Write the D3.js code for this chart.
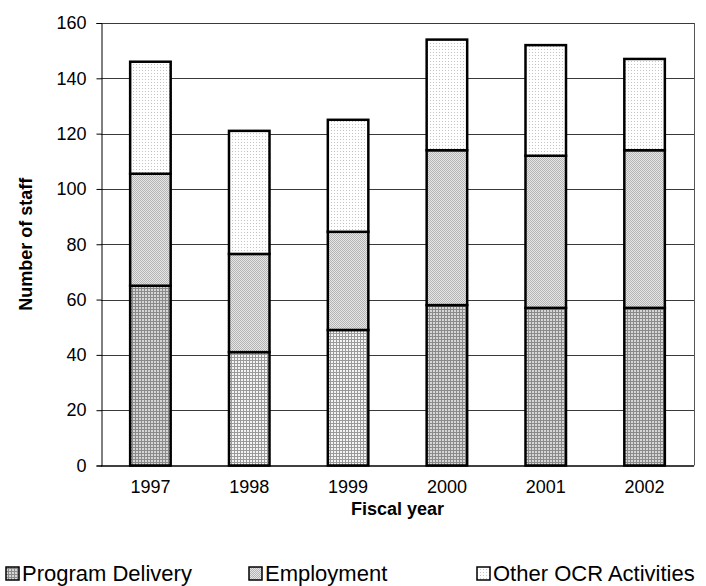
<!DOCTYPE html>
<html><head><meta charset="utf-8">
<script src="https://cdn.jsdelivr.net/npm/d3@7"></script>
<style>body{margin:0;background:#fff}svg{display:block;font-family:"Liberation Sans",Arial,sans-serif}</style>
</head><body><div id="chart"></div>
<script>
const years = ["1997","1998","1999","2000","2001","2002"];
const programDelivery = [65, 41, 49, 58, 57, 57];
const employment = [40.5, 35.5, 35.5, 56, 55, 57];
const otherOCR = [40.5, 44.5, 40.5, 40, 40, 33];
const seriesNames = ["Program Delivery", "Employment", "Other OCR Activities"];
const yTicks = [0, 20, 40, 60, 80, 100, 120, 140, 160];

const W = 706, H = 586;
const m = {left: 101, right: 12, top: 23, bottom: 120.5};
const FONT = "Liberation Sans, Arial, sans-serif";
const svg = d3.select("#chart").append("svg").attr("width", W).attr("height", H);
const defs = svg.append("defs");

// patterns
const p1 = defs.append("pattern").attr("id","pd").attr("width",3).attr("height",3).attr("patternUnits","userSpaceOnUse");
p1.append("rect").attr("width",3).attr("height",3).attr("fill","#d6d6d6");
p1.append("rect").attr("width",3).attr("height",1).attr("fill","#8a8a8a");
p1.append("rect").attr("width",1).attr("height",3).attr("fill","#8a8a8a");
const p1b = defs.append("pattern").attr("id","pdl").attr("width",3).attr("height",3).attr("patternUnits","userSpaceOnUse");
p1b.append("rect").attr("width",3).attr("height",3).attr("fill","#f4f4f4");
p1b.append("rect").attr("width",3).attr("height",1).attr("fill","#9a9a9a");
p1b.append("rect").attr("width",1).attr("height",3).attr("fill","#9a9a9a");
const p2 = defs.append("pattern").attr("id","emp").attr("width",2).attr("height",2).attr("patternUnits","userSpaceOnUse");
p2.append("rect").attr("width",2).attr("height",2).attr("fill","#e6e6e6");
p2.append("rect").attr("width",1).attr("height",1).attr("fill","#b4b4b4");
p2.append("rect").attr("x",1).attr("y",1).attr("width",1).attr("height",1).attr("fill","#b4b4b4");
const p3 = defs.append("pattern").attr("id","oth").attr("width",3).attr("height",3).attr("patternUnits","userSpaceOnUse");
p3.append("rect").attr("width",3).attr("height",3).attr("fill","#ffffff");
p3.append("rect").attr("x",1).attr("y",1).attr("width",1).attr("height",1).attr("fill","#c4c4c4");
const lightPD = new Set(["1998","1999"]);
const fills = [d => lightPD.has(d.data.year) ? "url(#pdl)" : "url(#pd)", () => "url(#emp)", () => "url(#oth)"];

const x = d3.scaleBand().domain(years).range([m.left, W - m.right]).paddingInner(0.59).paddingOuter(0.295);
const y = d3.scaleLinear().domain([0, 160]).range([H - m.bottom, m.top]);

const rows = years.map((yr, i) => ({year: yr, s0: programDelivery[i], s1: employment[i], s2: otherOCR[i]}));
const stack = d3.stack().keys(["s0","s1","s2"])(rows);

// gridlines
svg.append("g").selectAll("line").data(yTicks.filter(t => t > 0)).join("line")
  .attr("x1", m.left).attr("x2", W - m.right)
  .attr("y1", d => Math.round(y(d)) + 0.5).attr("y2", d => Math.round(y(d)) + 0.5)
  .attr("stroke", "#3a3a3a").attr("stroke-width", 1);
// right border
svg.append("line").attr("x1", W - m.right + 0.5).attr("x2", W - m.right + 0.5)
  .attr("y1", y(160)).attr("y2", y(0)).attr("stroke", "#555").attr("stroke-width", 1);

// bars
stack.forEach((layer, k) => {
  svg.append("g").selectAll("rect").data(layer).join("rect")
    .attr("x", d => x(d.data.year))
    .attr("width", x.bandwidth())
    .attr("y", d => y(d[1]))
    .attr("height", d => y(d[0]) - y(d[1]))
    .attr("fill", fills[k])
    .attr("stroke", "#000").attr("stroke-width", 2.5);
});

// y axis
const ya = svg.append("g").attr("transform", `translate(${m.left + 0.5},0)`)
  .call(d3.axisLeft(y).tickValues(yTicks).tickSize(5).tickPadding(10));
ya.attr("font-size", null).attr("font-family", null);
ya.select(".domain").attr("stroke", "#000");
ya.selectAll(".tick line").attr("stroke", "#000");
ya.selectAll("text").style("font-size", "18px").style("font-family", FONT).attr("fill", "#000");

// x axis
const xa = svg.append("g").attr("transform", `translate(0,${y(0) + 0.5})`)
  .call(d3.axisBottom(x).tickSize(0).tickPadding(14));
xa.attr("font-size", null).attr("font-family", null);
xa.select(".domain").attr("stroke", "#000").attr("stroke-width", 1.5).attr("d", `M${m.left},0H${W - m.right}`);
xa.selectAll("text").style("font-size", "18px").style("font-family", FONT).attr("fill", "#000");

// axis titles
svg.append("text").attr("x", (m.left + W - m.right) / 2).attr("y", 515)
  .attr("text-anchor", "middle").style("font-size", "18px").attr("font-weight", "bold").text("Fiscal year");
svg.append("text").attr("transform", `translate(32,${(y(0) + y(160)) / 2}) rotate(-90)`)
  .attr("text-anchor", "middle").style("font-size", "18px").attr("font-weight", "bold").text("Number of staff");

// legend
const legX = [5, 248, 476];
const legFill = ["url(#pd)", "url(#emp)", "url(#oth)"];
const leg = svg.append("g").selectAll("g").data(seriesNames).join("g")
  .attr("transform", (d, i) => `translate(${legX[i]},565)`);
leg.append("rect").attr("x", 1).attr("y", 2).attr("width", 13).attr("height", 13)
  .attr("fill", (d, i) => legFill[i]).attr("stroke", "#000").attr("stroke-width", 1.5);
leg.append("text").attr("x", 17).attr("y", 16).style("font-size", "22px").text(d => d);
</script></body></html>
